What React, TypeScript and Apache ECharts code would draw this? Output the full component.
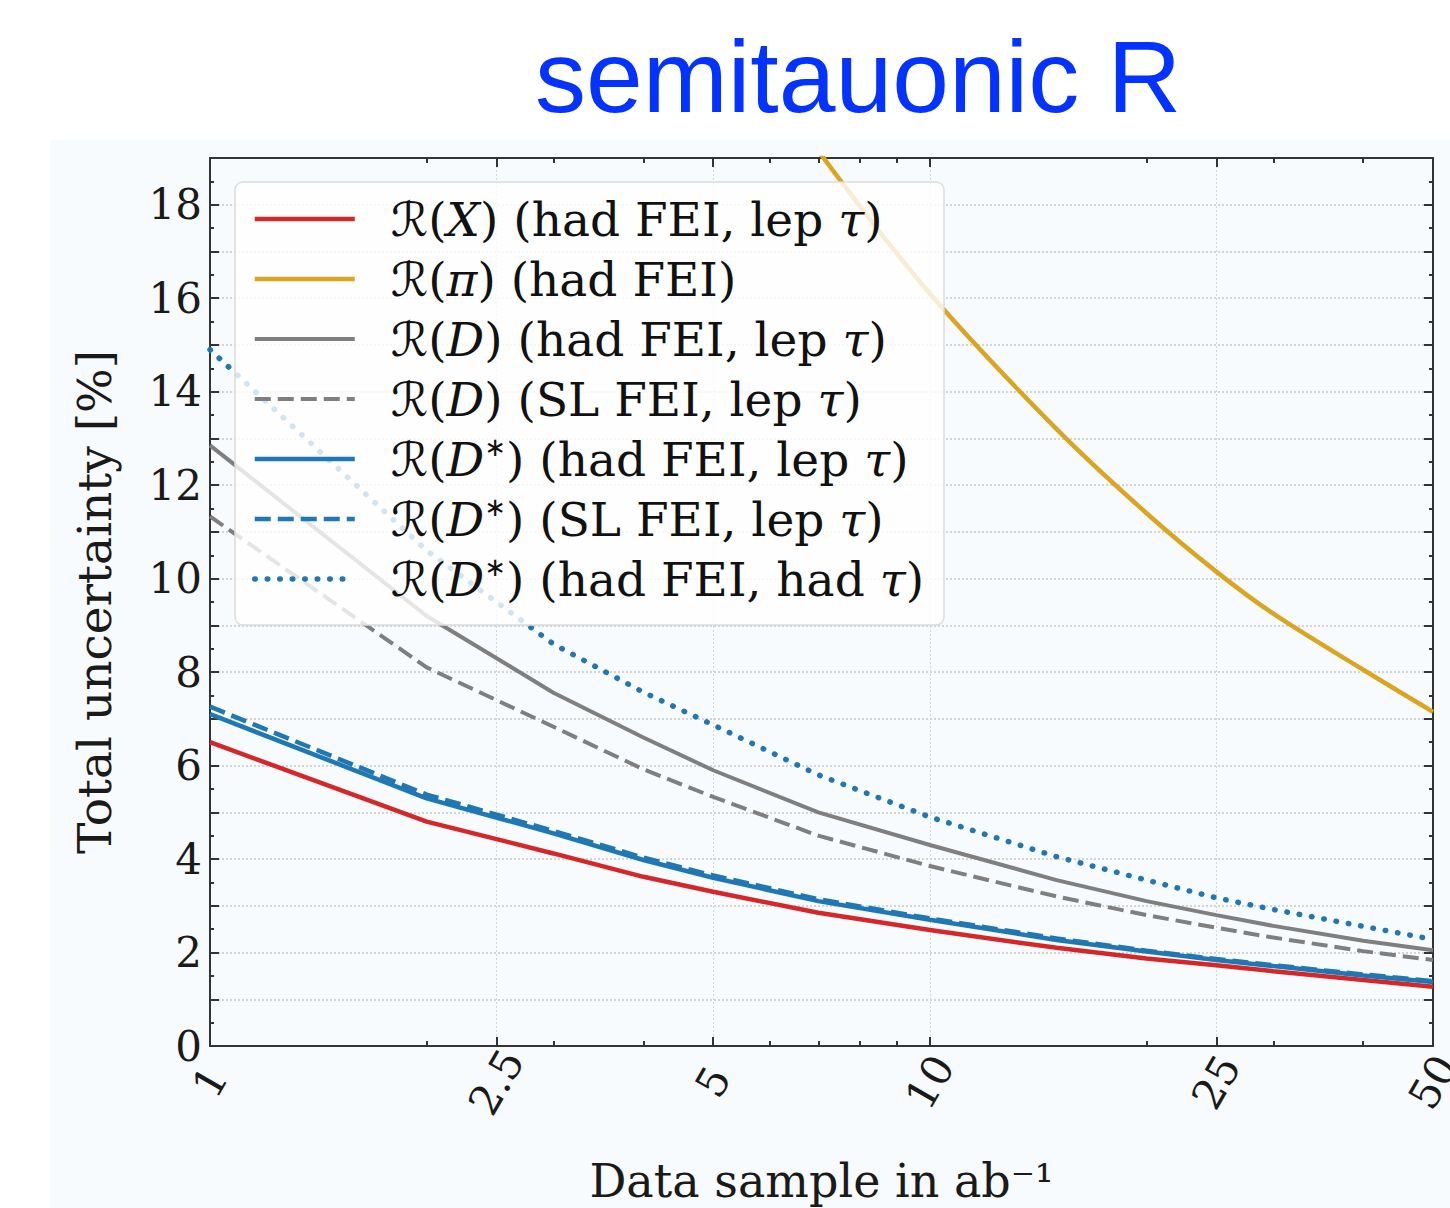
import React, { useEffect, useRef } from 'react';
import * as echarts from 'echarts';

// Data sample in ab^-1 (x positions of the plotted points)
const xValues = [1, 2, 3, 4, 5, 7, 10, 15, 20, 25, 30, 40, 50];
// Total uncertainty [%]
const redValues = [6.5, 4.8, 4.12, 3.62, 3.3, 2.85, 2.48, 2.1, 1.87, 1.73, 1.6, 1.41, 1.27];
const goldValues = [null, null, null, null, null, 19.15, 16.1, 13.2, 11.4, 10.15, 9.25, 8.05, 7.15];
const grayValues = [12.85, 9.2, 7.56, 6.6, 5.9, 5.0, 4.3, 3.55, 3.1, 2.8, 2.57, 2.25, 2.05];
const grayDashValues = [11.33, 8.1, 6.83, 5.92, 5.33, 4.5, 3.85, 3.2, 2.8, 2.53, 2.32, 2.03, 1.84];
const blueValues = [7.1, 5.3, 4.55, 3.98, 3.6, 3.1, 2.7, 2.27, 2.02, 1.84, 1.71, 1.51, 1.37];
const blueDashValues = [7.26, 5.38, 4.6, 4.03, 3.65, 3.14, 2.73, 2.3, 2.04, 1.86, 1.73, 1.53, 1.39];
const blueDotValues = [14.9, 10.6, 8.6, 7.57, 6.87, 5.8, 4.9, 4.05, 3.55, 3.17, 2.92, 2.56, 2.28];

const xMajorTicks = [1, 2.5, 5, 10, 25, 50];
const xMinorTicks = [2, 3, 4, 6, 7, 8, 9, 20, 30, 40];

const seriesNames = [
  'ℛ(X) (had FEI, lep τ)',
  'ℛ(π) (had FEI)',
  'ℛ(D) (had FEI, lep τ)',
  'ℛ(D) (SL FEI, lep τ)',
  'ℛ(D*) (had FEI, lep τ)',
  'ℛ(D*) (SL FEI, lep τ)',
  'ℛ(D*) (had FEI, had τ)',
];
const legendLabels = [
  '{c|ℛ}({i|X}) (had FEI, lep {i|τ})',
  '{c|ℛ}({i|π}) (had FEI)',
  '{c|ℛ}({i|D}) (had FEI, lep {i|τ})',
  '{c|ℛ}({i|D}) (SL FEI, lep {i|τ})',
  '{c|ℛ}({i|D}{s|∗}) (had FEI, lep {i|τ})',
  '{c|ℛ}({i|D}{s|∗}) (SL FEI, lep {i|τ})',
  '{c|ℛ}({i|D}{s|∗}) (had FEI, had {i|τ})',
];

const RED = '#d62728';
const GOLD = '#daa520';
const GRAY = '#7f7f7f';
const BLUE = '#1f77b4';

const pairs = (vals: (number | null)[]) =>
  xValues.map((x, i) => [x, vals[i]]).filter((p) => p[1] !== null);

const AXIS_COLOR = '#333333';
const LABEL_FONT = 'DejaVu Serif';
const LEGEND_FONT = 'DejaVu Serif';

export default function App() {
  const ref = useRef<HTMLDivElement>(null);
  useEffect(() => {
    if (!ref.current) return;
    const chart = echarts.init(ref.current, null, { renderer: 'svg' });

    const lineSeries = (
      name: string,
      vals: (number | null)[],
      color: string,
      width: number,
      type: any,
      cap: string = 'butt',
      smooth: boolean | number = false
    ) => ({
      name,
      type: 'line',
      xAxisIndex: 0,
      yAxisIndex: 0,
      data: pairs(vals),
      symbol: 'none',
      showSymbol: false,
      smooth,
      clip: true,
      lineStyle: { color, width, type, cap },
      itemStyle: { color },
      emphasis: { disabled: true },
    });

    const legendLine = (i: number) => {
      const widths = [4.5, 4.5, 4, 4, 4.5, 4.5, 5.5];
      const caps = ['butt', 'butt', 'butt', 'butt', 'butt', 'butt', 'round'];
      return { name: seriesNames[i], lineStyle: { width: widths[i], cap: caps[i] } };
    };

    const option: any = {
      animation: false,
      backgroundColor: '#ffffff',
      title: {
        text: 'semitauonic R',
        left: 535,
        top: 26,
        padding: 0,
        textStyle: {
          fontFamily: 'Liberation Sans',
          fontSize: 102,
          fontWeight: 'normal',
          color: '#0433ff',
        },
      },
      graphic: {
        elements: [
          {
            type: 'rect',
            left: 50,
            top: 140,
            z: -100,
            shape: { width: 1400, height: 1068 },
            style: { fill: '#f8fbfd' },
            silent: true,
          },
        ],
      },
      grid: {
        left: 210,
        right: 17,
        top: 158,
        bottom: 162,
        containLabel: false,
        outerBoundsMode: 'none',
      },
      legend: {
        orient: 'vertical',
        left: 235,
        top: 182,
        padding: [12, 20, 21, 17],
        itemGap: 10,
        itemWidth: 100,
        itemHeight: 14,
        itemStyle: { opacity: 0 },
        backgroundColor: 'rgba(255,255,255,0.8)',
        borderColor: '#dcdcdc',
        borderWidth: 1.5,
        borderRadius: 8,
        selectedMode: false,
        data: seriesNames.map((_, i) => legendLine(i)),
        formatter: (name: string) => legendLabels[seriesNames.indexOf(name)],
        textStyle: {
          fontFamily: LEGEND_FONT,
          fontSize: 47,
          color: '#111111',
          lineHeight: 50,
          padding: [0, 0, 0, 31],
          rich: {
            c: { fontFamily: 'DejaVu Serif, DejaVu Sans', fontSize: 47, color: '#111111', lineHeight: 50 },
            i: { fontFamily: LEGEND_FONT, fontStyle: 'italic', fontSize: 47, color: '#111111', lineHeight: 50 },
            s: { fontFamily: 'DejaVu Sans', fontSize: 26, color: '#111111', lineHeight: 24, verticalAlign: 'top' },
          },
        },
      },
      xAxis: [
        {
          type: 'log',
          logBase: 10,
          min: 1,
          max: 50,
          position: 'bottom',
          name: 'Data sample in ab⁻¹',
          nameLocation: 'middle',
          nameGap: 112,
          nameTextStyle: { fontFamily: LABEL_FONT, fontSize: 46, color: '#1a1a1a' },
          axisLine: { show: true, lineStyle: { color: AXIS_COLOR, width: 2 } },
          axisTick: {
            show: true,
            inside: true,
            length: 9,
            customValues: xMajorTicks,
            lineStyle: { color: AXIS_COLOR, width: 2 },
          },
          axisLabel: {
            show: true,
            customValues: xMajorTicks,
            rotate: 60,
            align: 'center',
            verticalAlign: 'middle',
            margin: 36,
            fontFamily: LABEL_FONT,
            fontSize: 42,
            color: '#1a1a1a',
            formatter: (v: number) => String(Math.round(v * 10) / 10),
          },
          splitLine: { show: true, lineStyle: { color: '#d6d6d6', width: 1, type: [2, 2] } },
          minorTick: { show: false },
        },
        {
          type: 'log',
          logBase: 10,
          min: 1,
          max: 50,
          position: 'bottom',
          axisLine: { show: false },
          axisTick: {
            show: true,
            inside: true,
            length: 5,
            customValues: xMinorTicks,
            lineStyle: { color: AXIS_COLOR, width: 2 },
          },
          axisLabel: { show: false },
          splitLine: { show: false },
        },
        {
          type: 'log',
          logBase: 10,
          min: 1,
          max: 50,
          position: 'top',
          axisLine: { show: true, lineStyle: { color: AXIS_COLOR, width: 2 } },
          axisTick: {
            show: true,
            inside: true,
            length: 9,
            customValues: xMajorTicks,
            lineStyle: { color: AXIS_COLOR, width: 2 },
          },
          axisLabel: { show: false },
          splitLine: { show: false },
        },
        {
          type: 'log',
          logBase: 10,
          min: 1,
          max: 50,
          position: 'top',
          axisLine: { show: false },
          axisTick: {
            show: true,
            inside: true,
            length: 5,
            customValues: xMinorTicks,
            lineStyle: { color: AXIS_COLOR, width: 2 },
          },
          axisLabel: { show: false },
          splitLine: { show: false },
        },
      ],
      yAxis: [
        {
          type: 'value',
          min: 0,
          max: 19,
          interval: 1,
          position: 'left',
          name: 'Total uncertainty [%]',
          nameLocation: 'middle',
          nameGap: 92,
          nameTextStyle: { fontFamily: LABEL_FONT, fontSize: 47, color: '#1a1a1a' },
          axisLine: { show: true, lineStyle: { color: AXIS_COLOR, width: 2 } },
          axisTick: { show: true, inside: true, length: 9, lineStyle: { color: AXIS_COLOR, width: 2 } },
          minorTick: { show: true, splitNumber: 2, length: 4, lineStyle: { color: AXIS_COLOR, width: 2 } },
          axisLabel: {
            show: true,
            margin: 8,
            fontFamily: LABEL_FONT,
            fontSize: 42,
            color: '#1a1a1a',
            formatter: (v: number) => (Math.round(v) % 2 === 0 ? String(v) : ''),
          },
          splitLine: { show: true, lineStyle: { color: '#c8c8c8', width: 1.5, type: [2, 2] } },
        },
        {
          type: 'value',
          min: 0,
          max: 19,
          interval: 1,
          position: 'right',
          axisLine: { show: true, lineStyle: { color: AXIS_COLOR, width: 2 } },
          axisTick: { show: true, inside: true, length: 9, lineStyle: { color: AXIS_COLOR, width: 2 } },
          minorTick: { show: true, splitNumber: 2, length: 4, lineStyle: { color: AXIS_COLOR, width: 2 } },
          axisLabel: { show: false },
          splitLine: { show: false },
        },
      ],
      series: [
        lineSeries(seriesNames[0], redValues, RED, 4.5, 'solid'),
        lineSeries(seriesNames[1], goldValues, GOLD, 4.5, 'solid', 'butt', 0.35),
        lineSeries(seriesNames[2], grayValues, GRAY, 4, 'solid'),
        lineSeries(seriesNames[3], grayDashValues, GRAY, 4, [16, 7]),
        lineSeries(seriesNames[4], blueValues, BLUE, 4.5, 'solid'),
        lineSeries(seriesNames[5], blueDashValues, BLUE, 4.5, [16, 7]),
        lineSeries(seriesNames[6], blueDotValues, BLUE, 5.5, [0.5, 12], 'round'),
      ],
    };

    chart.setOption(option);
    return () => chart.dispose();
  }, []);

  return (
    <div
      ref={ref}
      style={{ position: 'absolute', left: 0, top: 0, width: 1450, height: 1208 }}
    />
  );
}
